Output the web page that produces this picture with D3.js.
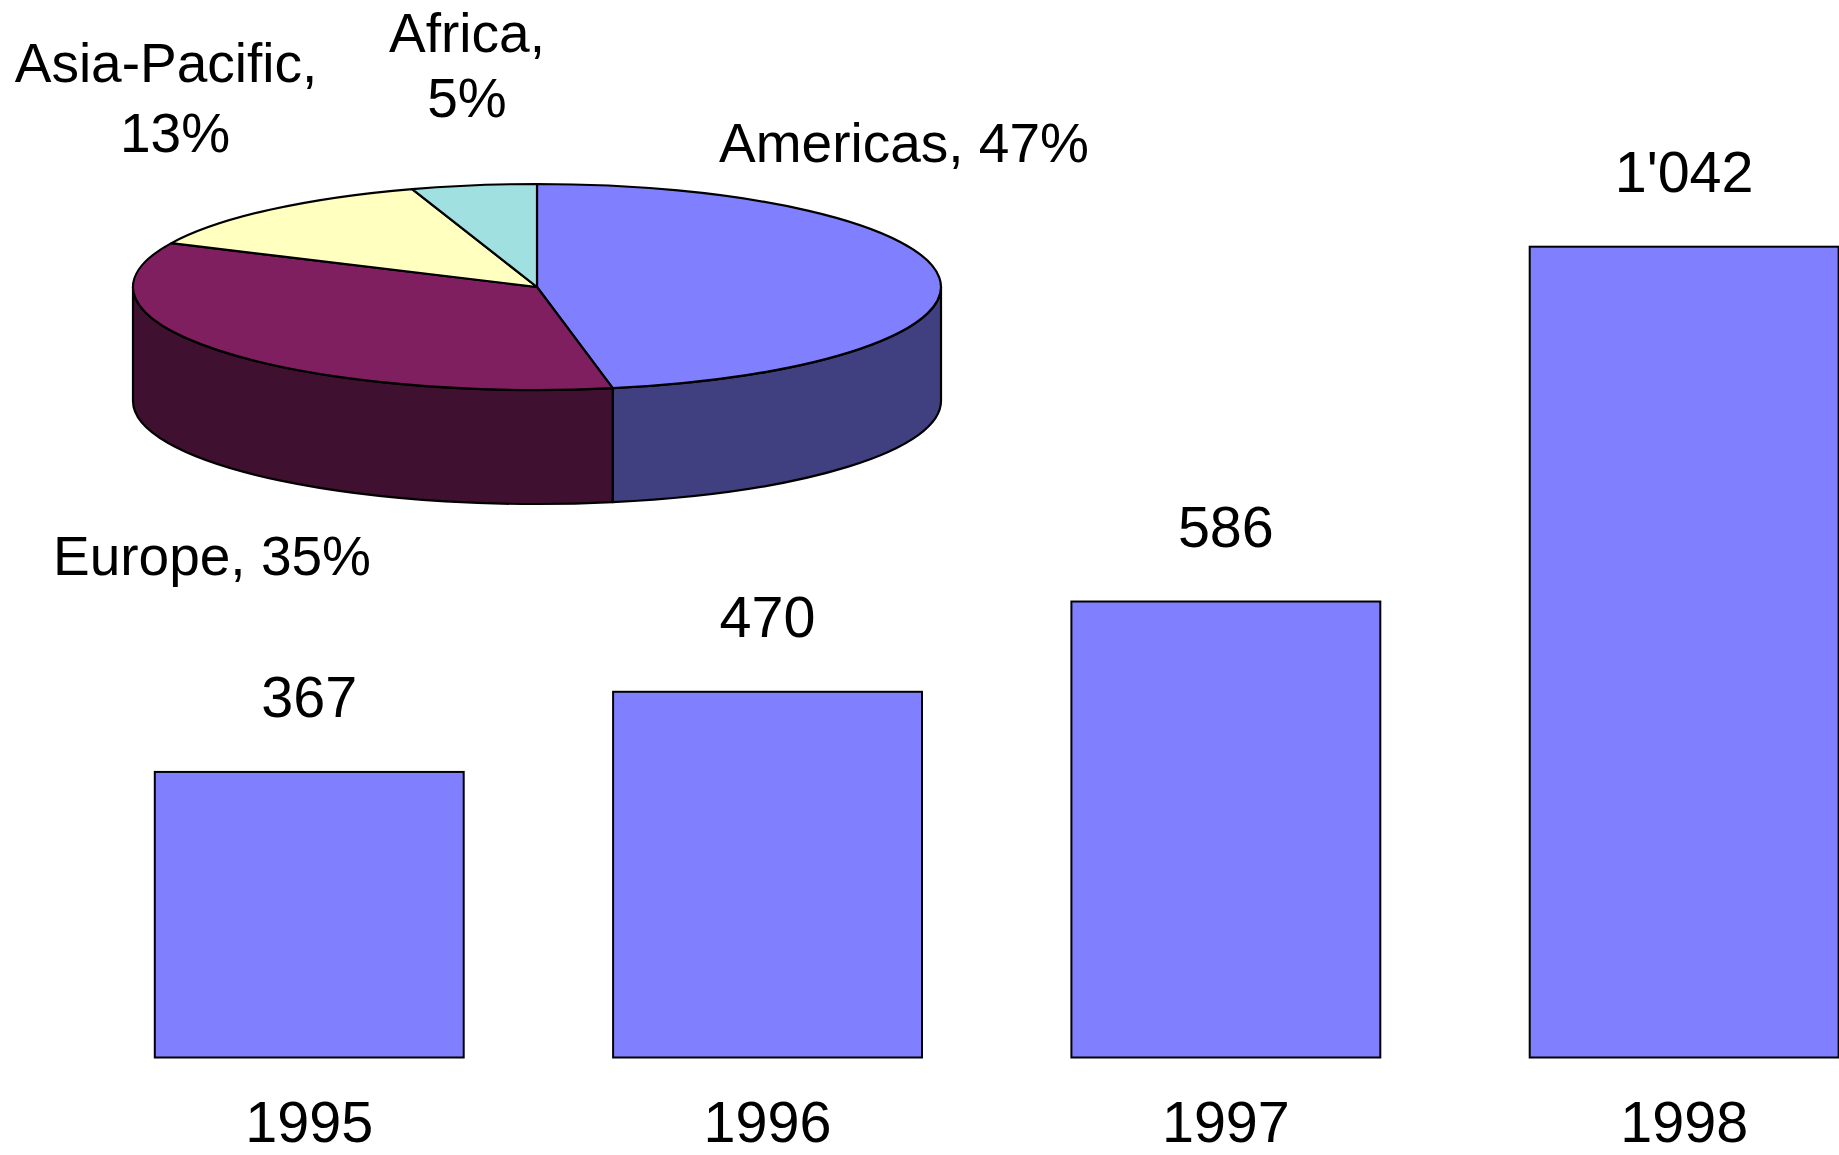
<!DOCTYPE html>
<html>
<head>
<meta charset="utf-8">
<script src="https://cdn.jsdelivr.net/npm/d3@7"></script>
<style>
  html, body { margin: 0; padding: 0; background: #ffffff; }
  svg { display: block; }
  text { font-family: "Liberation Sans", Arial, sans-serif; fill: #000; }
</style>
</head>
<body>
<svg id="chart" width="1839" height="1155"></svg>
<script>
// Regional split (pie)
const regions = ["Americas", "Europe", "Asia-Pacific", "Africa"];
const shares = [47, 35, 13, 5];
const topColors = ["#8080FF", "#801F60", "#FFFFC0", "#A0E0E0"];
const sideColors = ["#404080", "#401030", "#808060", "#507070"];

// Yearly totals (bars)
const years = ["1995", "1996", "1997", "1998"];
const totals = [367, 470, 586, 1042];
const barColor = "#8080FF";

// Label placement for the pie slices: line breaks and anchor points
const pieLabelLayout = [
  { lines: ["Americas, 47%"], x: [904], y: [161.7] },
  { lines: ["Europe, 35%"], x: [212], y: [575] },
  { lines: ["Asia-Pacific,", "13%"], x: [166, 175], y: [81.7, 151.7] },
  { lines: ["Africa,", "5%"], x: [467, 467], y: [51.5, 117] }
];

const svg = d3.select("#chart");

// ---------- Bar chart ----------
const x = d3.scaleBand()
  .domain(years)
  .range([80.1, 1913.3])
  .paddingInner(0.326)
  .paddingOuter(0.163);

const y = d3.scaleLinear()
  .domain([0, 1042])
  .range([1057.5, 246.7]);

const fmt = d3.formatLocale({ decimal: ".", thousands: "'", grouping: [3], currency: ["", ""] }).format(",");

const barData = years.map((yr, i) => ({ yr, v: totals[i] }));

const bars = svg.append("g").attr("class", "bars");
bars.selectAll("rect")
  .data(barData)
  .join("rect")
  .attr("x", d => x(d.yr))
  .attr("y", d => y(d.v))
  .attr("width", x.bandwidth())
  .attr("height", d => y(0) - y(d.v))
  .attr("fill", barColor)
  .attr("stroke", "#000")
  .attr("stroke-width", 2);

bars.selectAll("text.value")
  .data(barData)
  .join("text")
  .attr("class", "value")
  .attr("x", d => x(d.yr) + x.bandwidth() / 2)
  .attr("y", d => y(d.v) - 54.5)
  .attr("text-anchor", "middle")
  .attr("font-size", 57.5)
  .text(d => fmt(d.v));

// Category axis (labels only, no line or ticks)
const xAxis = svg.append("g")
  .attr("transform", `translate(0,${y(0)})`)
  .call(d3.axisBottom(x).tickSize(0).tickPadding(0));
xAxis.select(".domain").remove();
xAxis.selectAll("text")
  .attr("font-family", "\"Liberation Sans\", Arial, sans-serif")
  .attr("font-size", 57.5)
  .attr("fill", "#000")
  .attr("dy", null)
  .attr("y", 84.5);

// ---------- 3D pie ----------
const cx = 537, cy = 287, rx = 404, ry = 103, depth = 114;

const pie = d3.pie().sort(null).value(d => d);
const slices = pie(shares);

const pt = (t, dy) => [cx + rx * Math.sin(t), cy - ry * Math.cos(t) + dy];

// side walls for the front half of the cylinder
const sides = svg.append("g").attr("class", "pie-sides");
slices.forEach((s, i) => {
  const a = Math.max(s.startAngle, Math.PI / 2);
  const b = Math.min(s.endAngle, 3 * Math.PI / 2);
  if (a >= b) return;
  const p0 = pt(a, 0), p1 = pt(b, 0), p2 = pt(b, depth), p3 = pt(a, depth);
  const d = `M${p0} A${rx},${ry} 0 0 1 ${p1} L${p2} A${rx},${ry} 0 0 0 ${p3} Z`;
  sides.append("path")
    .attr("d", d)
    .attr("fill", sideColors[i])
    .attr("stroke", "#000")
    .attr("stroke-width", 2.2)
    .attr("stroke-linejoin", "round");
});

// top face: a circular pie flattened into an ellipse
const arc = d3.arc().innerRadius(0).outerRadius(rx);
svg.append("g")
  .attr("class", "pie-top")
  .attr("transform", `translate(${cx},${cy}) scale(1,${ry / rx})`)
  .selectAll("path")
  .data(slices)
  .join("path")
  .attr("d", arc)
  .attr("fill", (d, i) => topColors[i])
  .attr("stroke", "#000")
  .attr("stroke-width", 2.2)
  .attr("stroke-linejoin", "round")
  .attr("vector-effect", "non-scaling-stroke");

// slice labels: "Region, NN%"
const labels = svg.append("g").attr("class", "pie-labels");
slices.forEach((s, i) => {
  const lay = pieLabelLayout[i];
  const parts = lay.lines.length > 1
    ? [`${regions[i]},`, `${shares[i]}%`]
    : [`${regions[i]}, ${shares[i]}%`];
  const t = labels.append("text")
    .attr("text-anchor", "middle")
    .attr("font-size", 55);
  parts.forEach((p, k) => {
    t.append("tspan").attr("x", lay.x[k]).attr("y", lay.y[k]).text(p);
  });
});
</script>
</body>
</html>
